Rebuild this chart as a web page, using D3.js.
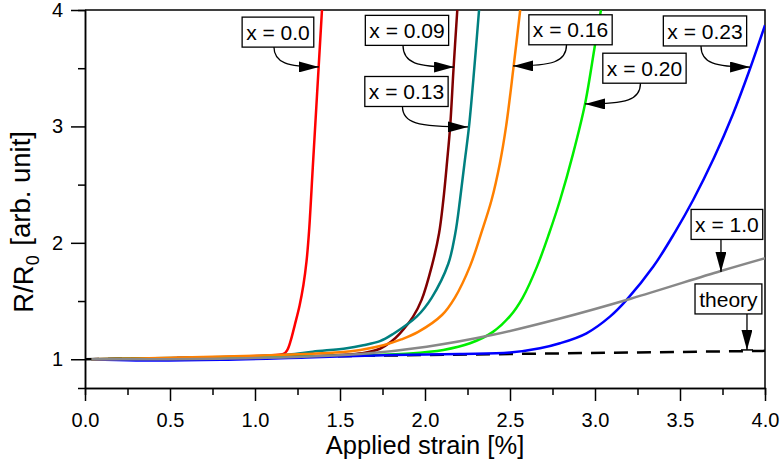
<!DOCTYPE html>
<html>
<head>
<meta charset="utf-8">
<script src="https://cdn.jsdelivr.net/npm/d3@7"></script>
<style>
  body { margin: 0; background: #fff; }
  text { font-family: "Liberation Sans", Arial, sans-serif; fill: #000; }
</style>
</head>
<body>
<script>
const width = 784;
const height = 468;
const margin = { left: 85, top: 10, right: 19, bottom: 80 };
const innerWidth = width - margin.left - margin.right;
const innerHeight = height - margin.top - margin.bottom;

// measured curves, [strain %, R/R0]
const curveX000 = [[0.04,1.0],[0.3,1.005],[0.6,1.012],[0.9,1.022],[1.1,1.035],[1.17,1.048],[1.19,1.08],[1.21,1.16],[1.235,1.3],[1.262,1.46],[1.285,1.64],[1.303,1.84],[1.318,2.1],[1.34,2.65],[1.366,3.3],[1.394,4.0]];
const curveX009 = [[0.04,1.0],[0.5,1.008],[1.0,1.02],[1.4,1.03],[1.55,1.04],[1.647,1.055],[1.735,1.09],[1.8,1.15],[1.853,1.223],[1.93,1.366],[1.98,1.51],[2.04,1.80],[2.083,2.085],[2.108,2.37],[2.13,2.7],[2.148,3.0],[2.168,3.5],[2.19,4.0]];
const curveX013 = [[0.04,1.0],[0.5,1.01],[1.0,1.025],[1.2,1.04],[1.34,1.065],[1.54,1.094],[1.637,1.12],[1.735,1.155],[1.81,1.215],[1.951,1.366],[2.04,1.53],[2.137,1.82],[2.178,2.08],[2.206,2.37],[2.232,2.68],[2.259,3.0],[2.29,3.5],[2.318,4.0]];
const curveX016 = [[0.04,1.0],[0.5,1.012],[1.0,1.03],[1.3,1.045],[1.5,1.06],[1.62,1.08],[1.755,1.12],[1.86,1.17],[1.96,1.235],[2.10,1.38],[2.176,1.53],[2.265,1.80],[2.33,2.08],[2.392,2.37],[2.44,2.68],[2.477,3.0],[2.52,3.5],[2.56,4.0]];
const curveX020 = [[0.04,1.0],[0.5,1.005],[1.0,1.015],[1.5,1.03],[1.91,1.05],[2.108,1.08],[2.265,1.137],[2.40,1.235],[2.5,1.37],[2.575,1.53],[2.66,1.80],[2.73,2.08],[2.795,2.37],[2.87,2.76],[2.941,3.19],[3.0,3.7],[3.035,4.0]];
const curveX023 = [[0.04,1.0],[0.3,0.99],[0.8,0.995],[1.3,1.015],[1.81,1.037],[2.206,1.045],[2.5,1.057],[2.676,1.094],[2.794,1.137],[2.95,1.223],[3.088,1.366],[3.186,1.51],[3.343,1.796],[3.47,2.09],[3.578,2.37],[3.70,2.73],[3.81,3.1],[3.908,3.48],[4.0,3.87]];
const curveX100 = [[0.04,1.0],[0.5,1.0],[1.0,1.01],[1.62,1.045],[2.01,1.108],[2.4,1.21],[2.794,1.35],[3.21,1.52],[3.74,1.758],[4.0,1.868]];
const curveTheory = [[0.0,1.0],[4.0,1.072]];

const xMajorTicks = [0, 0.5, 1.0, 1.5, 2.0, 2.5, 3.0, 3.5, 4.0];
const xMinorTicks = [0.25, 0.75, 1.25, 1.75, 2.25, 2.75, 3.25, 3.75];
const yMajorTicks = [1, 2, 3, 4];
const yMinorTicks = [1.5, 2.5, 3.5];

// label, box centre, arrow tip (data units), arrow kind
const labels = [
  { text: "x = 0.0",  box: [1.135, 3.81],  tip: [1.376, 3.511], kind: "curve" },
  { text: "x = 0.09", box: [1.894, 3.825], tip: [2.171, 3.51],  kind: "curve" },
  { text: "x = 0.13", box: [1.891, 3.30],  tip: [2.253, 2.996], kind: "curve" },
  { text: "x = 0.16", box: [2.856, 3.83],  tip: [2.518, 3.52],  kind: "curve" },
  { text: "x = 0.20", box: [3.291, 3.50],  tip: [2.941, 3.193], kind: "curve" },
  { text: "x = 0.23", box: [3.647, 3.82],  tip: [3.912, 3.51],  kind: "curve" },
  { text: "x = 1.0",  box: [3.776, 2.158], tip: [3.741, 1.75],  kind: "down" },
  { text: "theory",   box: [3.785, 1.518], tip: [3.894, 1.08],  kind: "bar" }
];

const series = [
  { data: curveTheory, color: "#000000", dash: "14,9" },
  { data: curveX000, color: "#ff0000" },
  { data: curveX009, color: "#800000" },
  { data: curveX013, color: "#008080" },
  { data: curveX020, color: "#00ee00" },
  { data: curveX023, color: "#0000ff" },
  { data: curveX016, color: "#ff8000" },
  { data: curveX100, color: "#888888" }
];

const svg = d3.select("body").append("svg")
  .attr("width", width)
  .attr("height", height);

svg.append("defs").append("clipPath").attr("id", "plot")
  .append("rect").attr("width", innerWidth).attr("height", innerHeight);

svg.select("defs").append("marker")
  .attr("id", "head")
  .attr("viewBox", "0 0 20 11")
  .attr("refX", 20).attr("refY", 5.5)
  .attr("markerWidth", 20).attr("markerHeight", 11)
  .attr("markerUnits", "userSpaceOnUse")
  .attr("orient", "auto")
  .append("path").attr("d", "M0,0 L20,5.5 L0,11 Z").attr("fill", "#000");

const g = svg.append("g")
  .attr("transform", `translate(${margin.left}, ${margin.top})`);

const xScale = d3.scaleLinear().domain([0, 4]).range([0, innerWidth]);
const yScale = d3.scaleLinear().domain([0.753, 4]).range([innerHeight, 0]);

// minor ticks
g.append("g").attr("transform", `translate(0, ${innerHeight})`)
  .call(d3.axisBottom(xScale).tickValues(xMinorTicks).tickSize(7).tickFormat(""));
g.append("g")
  .call(d3.axisLeft(yScale).tickValues(yMinorTicks).tickSize(7).tickFormat(""));

const xAxisG = g.append("g").attr("transform", `translate(0, ${innerHeight})`)
  .call(d3.axisBottom(xScale).tickValues(xMajorTicks).tickSize(13).tickSizeOuter(0).tickPadding(7).tickFormat(d3.format(".1f")));
const yAxisG = g.append("g")
  .call(d3.axisLeft(yScale).tickValues(yMajorTicks).tickSize(14).tickSizeOuter(0).tickPadding(8).tickFormat(d3.format("d")));

g.selectAll(".domain, .tick line").attr("stroke", "#000").attr("stroke-width", 1.5);
g.selectAll(".tick text").style("font-size", "20px").attr("fill", "#000");
xAxisG.selectAll(".tick text").attr("dy", "0.95em");

// frame top and right
g.append("path")
  .attr("d", `M0,0 H${innerWidth} V${innerHeight}`)
  .attr("fill", "none").attr("stroke", "#000").attr("stroke-width", 1.5);

const line = d3.line()
  .x(d => xScale(d[0]))
  .y(d => yScale(d[1]))
  .curve(d3.curveCatmullRom.alpha(0.5));

g.append("g").attr("clip-path", "url(#plot)")
  .selectAll("path").data(series).enter().append("path")
  .attr("d", d => line(d.data))
  .attr("fill", "none")
  .attr("stroke", d => d.color)
  .attr("stroke-width", 2.5)
  .attr("stroke-dasharray", d => d.dash || null);

// annotations
const ann = g.append("g");
labels.forEach(l => {
  const bx = xScale(l.box[0]);
  const by = yScale(l.box[1]);
  const tx = xScale(l.tip[0]);
  const ty = yScale(l.tip[1]);
  const t = ann.append("text")
    .attr("x", bx).attr("y", by)
    .attr("text-anchor", "middle")
    .attr("dy", "0.36em")
    .style("font-size", "21px")
    .text(l.text);
  const bb = t.node().getBBox();
  const w = bb.width + 8;
  const h = 30;
  ann.insert("rect", "text")
    .attr("x", bx - w / 2).attr("y", by - h / 2)
    .attr("width", w).attr("height", h)
    .attr("fill", "#fff").attr("stroke", "#000").attr("stroke-width", 1.3);
  const bottom = by + h / 2;
  let d;
  if (l.kind === "curve") {
    const sx = bx - 4;
    const dir = tx > sx ? 1 : -1;
    d = `M${sx},${bottom} C${sx},${ty - 4} ${sx + dir * 14},${ty} ${tx},${ty}`;
  } else {
    d = `M${tx},${bottom} L${tx},${ty}`;
  }
  ann.append("path")
    .attr("d", d)
    .attr("fill", "none").attr("stroke", "#000").attr("stroke-width", 1.3)
    .attr("marker-end", "url(#head)");
  if (l.kind === "bar") {
    ann.append("line")
      .attr("x1", tx - 6).attr("x2", tx + 6)
      .attr("y1", ty).attr("y2", ty)
      .attr("stroke", "#000").attr("stroke-width", 1.5);
  }
});

// axis titles
g.append("text")
  .attr("x", innerWidth / 2).attr("y", innerHeight + 66)
  .attr("text-anchor", "middle")
  .style("font-size", "25.5px")
  .text("Applied strain [%]");

const yTitle = g.append("text")
  .attr("transform", `translate(${-52}, ${yScale(2.18)}) rotate(-90)`)
  .attr("text-anchor", "middle")
  .style("font-size", "27.5px");
yTitle.append("tspan").text("R/R");
yTitle.append("tspan").attr("dy", "0.35em").style("font-size", "18px").text("0");
yTitle.append("tspan").attr("dy", "-0.35em").attr("dx", "2").text(" [arb. unit]");
</script>
</body>
</html>
